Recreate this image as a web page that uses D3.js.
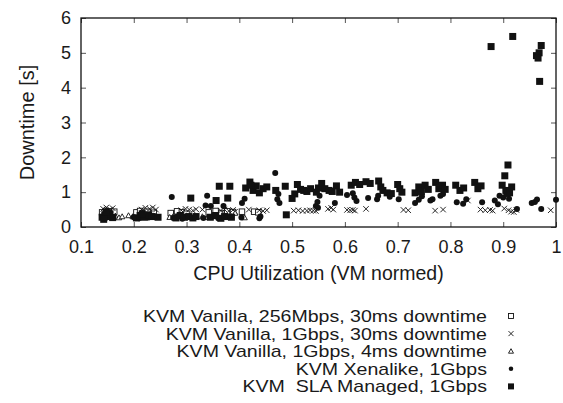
<!DOCTYPE html>
<html><head><meta charset="utf-8">
<script src="https://cdn.jsdelivr.net/npm/d3@7"></script>
<style>body{margin:0;background:#fff}svg{display:block}text{font-family:"Liberation Sans",Arial,sans-serif;fill:#1a1a1a}</style>
</head><body><div id="chart"></div>
<script>
const xTicks=[0.1,0.2,0.3,0.4,0.5,0.6,0.7,0.8,0.9,1];
const yTicks=[0,1,2,3,4,5,6];
const seriesNames=["KVM Vanilla, 256Mbps, 30ms downtime","KVM Vanilla, 1Gbps, 30ms downtime","KVM Vanilla, 1Gbps, 4ms downtime","KVM Xenalike, 1Gbps","KVM  SLA Managed, 1Gbps"];
const vanilla256=[[0.140,0.42],[0.147,0.46],[0.152,0.45],[0.158,0.40],[0.163,0.44],[0.205,0.42],[0.212,0.46],[0.218,0.40],[0.226,0.44],[0.238,0.41],[0.270,0.40],[0.282,0.45],[0.291,0.42],[0.300,0.38],[0.342,0.42],[0.355,0.46],[0.366,0.40],[0.377,0.45],[0.388,0.43],[0.405,0.44],[0.428,0.44],[0.436,0.42]];
const vanilla1g30=[[0.142,0.52],[0.148,0.56],[0.155,0.50],[0.160,0.54],[0.215,0.50],[0.222,0.55],[0.230,0.52],[0.236,0.56],[0.242,0.50],[0.290,0.48],[0.298,0.52],[0.305,0.50],[0.312,0.47],[0.318,0.51],[0.330,0.50],[0.365,0.47],[0.372,0.50],[0.380,0.46],[0.388,0.49],[0.392,0.44],[0.418,0.50],[0.438,0.48],[0.445,0.46],[0.452,0.48],[0.503,0.47],[0.512,0.48],[0.520,0.46],[0.528,0.47],[0.534,0.48],[0.540,0.47],[0.545,0.46],[0.568,0.52],[0.574,0.55],[0.578,0.50],[0.604,0.49],[0.610,0.48],[0.615,0.49],[0.619,0.47],[0.640,0.52],[0.711,0.49],[0.720,0.48],[0.771,0.47],[0.786,0.50],[0.833,0.76],[0.857,0.50],[0.866,0.48],[0.875,0.49],[0.880,0.47],[0.902,0.53],[0.910,0.48],[0.915,0.44],[0.920,0.43],[0.925,0.49],[0.990,0.48]];
const vanilla1g4=[[0.150,0.33],[0.165,0.32],[0.172,0.27],[0.178,0.30],[0.190,0.33],[0.198,0.30],[0.268,0.28],[0.275,0.31],[0.330,0.30],[0.340,0.28],[0.348,0.32],[0.410,0.27],[0.392,0.40]];
const xenalike=[[0.140,0.30],[0.146,0.25],[0.152,0.33],[0.158,0.27],[0.200,0.28],[0.210,0.25],[0.218,0.32],[0.228,0.27],[0.236,0.30],[0.272,0.86],[0.275,0.26],[0.283,0.30],[0.292,0.24],[0.300,0.28],[0.339,0.90],[0.336,0.62],[0.346,0.60],[0.332,0.26],[0.350,0.30],[0.360,0.25],[0.370,0.60],[0.375,0.30],[0.405,0.69],[0.410,0.81],[0.404,0.27],[0.438,0.25],[0.440,0.30],[0.468,1.55],[0.474,0.95],[0.472,0.80],[0.476,0.69],[0.545,0.60],[0.548,0.72],[0.552,0.90],[0.549,0.55],[0.581,0.69],[0.604,0.92],[0.615,0.97],[0.618,0.85],[0.622,0.75],[0.644,0.83],[0.661,0.80],[0.663,0.90],[0.685,0.87],[0.702,0.80],[0.733,0.69],[0.740,0.78],[0.746,0.88],[0.762,0.76],[0.766,0.80],[0.781,0.90],[0.786,0.95],[0.812,0.71],[0.824,0.67],[0.830,0.80],[0.860,0.71],[0.884,0.76],[0.890,0.65],[0.893,0.90],[0.900,0.85],[0.906,0.95],[0.911,0.81],[0.926,0.52],[0.954,0.69],[0.960,0.72],[0.964,0.79],[0.972,0.52],[1.000,0.78]];
const slaManaged=[[0.140,0.28],[0.145,0.35],[0.150,0.30],[0.155,0.38],[0.160,0.27],[0.148,0.42],[0.143,0.22],[0.205,0.26],[0.212,0.33],[0.220,0.28],[0.228,0.35],[0.235,0.30],[0.246,0.28],[0.216,0.38],[0.280,0.26],[0.288,0.33],[0.296,0.28],[0.304,0.30],[0.308,0.83],[0.312,0.26],[0.318,0.30],[0.362,1.17],[0.382,1.17],[0.356,0.76],[0.378,0.83],[0.345,0.28],[0.355,0.33],[0.365,0.25],[0.372,0.30],[0.385,0.28],[0.420,1.29],[0.412,1.12],[0.426,1.05],[0.432,1.18],[0.438,0.98],[0.445,1.10],[0.452,1.15],[0.422,1.20],[0.469,1.05],[0.487,1.17],[0.489,0.35],[0.500,0.82],[0.505,0.95],[0.510,1.22],[0.516,1.08],[0.522,1.05],[0.528,1.02],[0.535,1.10],[0.546,1.00],[0.550,1.12],[0.556,1.25],[0.562,1.10],[0.570,1.05],[0.576,1.02],[0.584,1.18],[0.590,1.00],[0.612,1.20],[0.620,1.28],[0.628,1.22],[0.640,1.30],[0.648,1.25],[0.664,1.32],[0.668,1.15],[0.672,1.05],[0.680,0.98],[0.688,0.96],[0.700,1.22],[0.704,1.10],[0.708,1.00],[0.733,0.98],[0.740,1.15],[0.745,1.02],[0.752,1.20],[0.758,1.08],[0.772,1.28],[0.778,1.10],[0.785,1.20],[0.790,1.08],[0.810,1.20],[0.818,1.05],[0.825,1.12],[0.846,1.28],[0.852,1.10],[0.858,1.18],[0.877,5.18],[0.918,5.47],[0.909,1.78],[0.903,1.47],[0.898,1.20],[0.905,1.05],[0.912,0.98],[0.916,1.15],[0.963,4.92],[0.968,5.00],[0.966,4.85],[0.972,5.21],[0.969,4.18]];

const W=563,H=403;
const m={l:81,r:556,t:18,b:227};
const svg=d3.select("#chart").append("svg").attr("width",W).attr("height",H);
const x=d3.scaleLinear().domain([0.1,1]).range([m.l,m.r]);
const y=d3.scaleLinear().domain([0,6]).range([m.b,m.t]);
const tc="#555";
const gx=svg.append("g").attr("transform",`translate(0,${m.b})`).call(d3.axisBottom(x).tickValues(xTicks).tickSize(-5).tickPadding(13).tickFormat(d=>d===1?"1":d3.format(".1f")(d)));
const gxt=svg.append("g").attr("transform",`translate(0,${m.t})`).call(d3.axisTop(x).tickValues(xTicks).tickSize(-5).tickFormat(""));
const gy=svg.append("g").attr("transform",`translate(${m.l},0)`).call(d3.axisLeft(y).tickValues(yTicks).tickSize(-5).tickPadding(10).tickFormat(d3.format("d")));
const gyr=svg.append("g").attr("transform",`translate(${m.r},0)`).call(d3.axisRight(y).tickValues(yTicks).tickSize(-5).tickFormat(""));
[gx,gxt,gy,gyr].forEach(g=>{g.select(".domain").remove();g.selectAll(".tick line").attr("stroke",tc);g.selectAll("text").attr("font-size",18).attr("fill","#1a1a1a").attr("font-family","Liberation Sans, Arial, sans-serif");});
svg.append("rect").attr("x",m.l).attr("y",m.t).attr("width",m.r-m.l).attr("height",m.b-m.t).attr("fill","none").attr("stroke","#111").attr("stroke-width",1.3);

svg.append("text").attr("x",(m.l+m.r)/2).attr("y",280).attr("text-anchor","middle").attr("font-size",19.5).text("CPU Utilization (VM normed)");
svg.append("text").attr("transform",`translate(34,${(m.t+m.b)/2}) rotate(-90)`).attr("text-anchor","middle").attr("font-size",20).text("Downtime [s]");

function drawMarker(g,type,cx,cy,s){
  if(type==="osq") g.append("rect").attr("x",cx-s/2).attr("y",cy-s/2).attr("width",s).attr("height",s).attr("fill","#fff").attr("stroke","#111").attr("stroke-width",0.9);
  else if(type==="x") g.append("path").attr("d",`M${cx-s/2},${cy-s/2}L${cx+s/2},${cy+s/2}M${cx-s/2},${cy+s/2}L${cx+s/2},${cy-s/2}`).attr("stroke","#111").attr("stroke-width",0.9).attr("fill","none");
  else if(type==="tri") g.append("path").attr("d",`M${cx},${cy-s/2}L${cx+s/2},${cy+s/2*0.8}L${cx-s/2},${cy+s/2*0.8}Z`).attr("fill","#fff").attr("stroke","#111").attr("stroke-width",0.9);
  else if(type==="dot") g.append("circle").attr("cx",cx).attr("cy",cy).attr("r",s/2).attr("fill","#111");
  else if(type==="fsq") g.append("rect").attr("x",cx-s/2).attr("y",cy-s/2).attr("width",s).attr("height",s).attr("fill","#111");
}
const series=[
  {data:vanilla256,type:"osq",s:5.5,ls:5},
  {data:vanilla1g30,type:"x",s:5.5,ls:5},
  {data:vanilla1g4,type:"tri",s:5.5,ls:5},
  {data:xenalike,type:"dot",s:6,ls:4.5},
  {data:slaManaged,type:"fsq",s:7,ls:6}
];
const pg=svg.append("g");
series.forEach(sr=>{
  const g=pg.append("g");
  sr.data.forEach(d=>drawMarker(g,sr.type,x(d[0]),y(d[1]),sr.s));
});
const lg=svg.append("g");
seriesNames.forEach((n,i)=>{
  const yy=316+i*17.6;
  const t=lg.append("text").attr("x",487).attr("y",yy+6).attr("text-anchor","end").attr("font-size",17).style("white-space","pre").attr("xml:space","preserve").text(n);
  const w=t.node().getComputedTextLength();
  t.attr("textLength",w*1.15).attr("lengthAdjust","spacingAndGlyphs");
  drawMarker(lg,series[i].type,511,yy,series[i].ls);
});
</script></body></html>
